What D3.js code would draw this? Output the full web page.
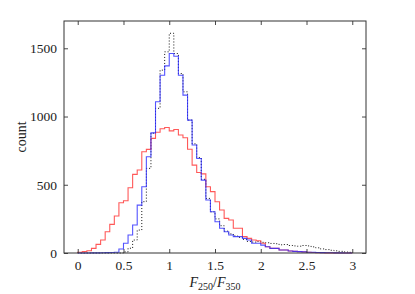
<!DOCTYPE html>
<html>
<head>
<meta charset="utf-8">
<script src="https://cdn.jsdelivr.net/npm/d3@7"></script>
<style>
  body { margin: 0; background: #fff; }
  svg { display: block; }
  svg text { font-family: "Liberation Serif", "DejaVu Serif", serif; }
</style>
</head>
<body>
<div id="wrapper"></div>
<script>
// histogram counts, bins of 0.05 from 0 to 3
const binEdges = d3.range(0, 3.0001, 0.05);

const redCounts = [5, 10, 17, 34, 63, 95, 156, 210, 271, 368,
  383, 478, 576, 608, 742, 759, 840, 885, 910, 920,
  895, 905, 865, 845, 760, 644, 590, 580, 485, 450,
  376, 315, 254, 242, 181, 181, 120, 107, 95, 90,
  71, 46, 34, 34, 22, 22, 15, 12, 10, 8,
  6, 4, 3, 2, 1, 1, 1, 0, 0, 0];

const blueCounts = [0, 0, 0, 1, 1, 2, 3, 4, 6, 29,
  71, 132, 205, 351, 485, 705, 880, 1108, 1303, 1371,
  1462, 1442, 1303, 1157, 974, 791, 693, 534, 388, 302,
  229, 181, 156, 132, 120, 120, 107, 95, 71, 71,
  58, 46, 34, 34, 22, 22, 15, 12, 10, 8,
  6, 5, 4, 3, 2, 2, 1, 1, 0, 0];

const dottedCounts = [0, 0, 0, 0, 0, 0, 0, 0, 0, 0,
  8, 35, 95, 168, 376, 620, 878, 1060, 1340, 1474,
  1610, 1462, 1315, 1181, 974, 800, 700, 540, 400, 302,
  250, 200, 160, 140, 125, 115, 100, 85, 80, 85,
  78, 75, 70, 68, 60, 62, 55, 52, 50, 55,
  52, 45, 38, 30, 25, 20, 16, 12, 8, 5];

const xTicks = [0, 0.5, 1, 1.5, 2, 2.5, 3];
const yTicks = [0, 500, 1000, 1500];

let width = 415, height = 294;
let margin = {left: 64, top: 21, right: 49, bottom: 41};
let serif = '"Liberation Serif", "DejaVu Serif", serif';

let svg = d3.select('#wrapper').append('svg')
  .attr('width', width).attr('height', height);

let xScale = d3.scaleLinear().domain([-0.15, 3.15]).range([margin.left, width - margin.right]);
let yScale = d3.scaleLinear().domain([0, 1700]).range([height - margin.bottom, margin.top]);

// step outline like matplotlib histtype='step'
let stepPoints = counts => {
  let pts = [[binEdges[0], 0]];
  counts.forEach((c, i) => pts.push([binEdges[i], c]));
  pts.push([binEdges[binEdges.length - 1], counts[counts.length - 1]]);
  pts.push([binEdges[binEdges.length - 1], 0]);
  return pts;
};

let lineGen = d3.line()
  .x(d => xScale(d[0]))
  .y(d => yScale(d[1]))
  .curve(d3.curveStepAfter);

let plot = svg.append('g').classed('plot', true);

plot.append('path')
  .attr('d', lineGen(stepPoints(dottedCounts)))
  .attr('fill', 'none')
  .attr('stroke', '#111')
  .attr('stroke-width', 1)
  .attr('stroke-dasharray', '1,2');

plot.append('path')
  .attr('d', lineGen(stepPoints(redCounts)))
  .attr('fill', 'none')
  .attr('stroke', 'rgb(255,60,60)')
  .attr('stroke-opacity', 0.85)
  .attr('stroke-width', 1.1);

plot.append('path')
  .attr('d', lineGen(stepPoints(blueCounts)))
  .attr('fill', 'none')
  .attr('stroke', 'rgb(40,40,255)')
  .attr('stroke-opacity', 0.8)
  .attr('stroke-width', 1.1);

// axes, ticks pointing inward on all sides
let x0 = margin.left, x1 = width - margin.right;
let y0 = height - margin.bottom, y1 = margin.top;

let bottomAxis = svg.append('g')
  .attr('transform', 'translate(0,' + y0 + ')')
  .call(d3.axisBottom(xScale).tickValues(xTicks).tickSize(-4).tickPadding(7).tickFormat(d3.format('')));
let topAxis = svg.append('g')
  .attr('transform', 'translate(0,' + y1 + ')')
  .call(d3.axisTop(xScale).tickValues(xTicks).tickSize(-4).tickFormat(''));
let leftAxis = svg.append('g')
  .attr('transform', 'translate(' + x0 + ',0)')
  .call(d3.axisLeft(yScale).tickValues(yTicks).tickSize(-4).tickPadding(7).tickFormat(d3.format('d')));
let rightAxis = svg.append('g')
  .attr('transform', 'translate(' + x1 + ',0)')
  .call(d3.axisRight(yScale).tickValues(yTicks).tickSize(-4).tickFormat(''));

[bottomAxis, topAxis, leftAxis, rightAxis].forEach(a => {
  a.attr('font-family', serif).attr('font-size', 13.5);
  a.select('.domain').remove();
  a.selectAll('line').attr('stroke', '#333').attr('stroke-width', 0.9);
  a.selectAll('text')
    .style('font-family', serif)
    .style('font-size', '13.5px')
    .attr('fill', '#222');
});

svg.append('rect')
  .attr('x', x0).attr('y', y1)
  .attr('width', x1 - x0).attr('height', y0 - y1)
  .attr('fill', 'none')
  .attr('stroke', '#333')
  .attr('stroke-width', 1);

// axis labels
svg.append('text')
  .attr('transform', 'translate(21,' + ((y0 + y1) / 2) + ') rotate(-90)')
  .attr('text-anchor', 'middle')
  .attr('dy', '0.35em')
  .style('font-family', serif)
  .style('font-size', '14px')
  .style('fill', '#222')
  .text('count');

let xLabel = svg.append('text')
  .attr('x', (x0 + x1) / 2)
  .attr('y', 287)
  .attr('text-anchor', 'middle')
  .style('font-family', serif)
  .style('font-size', '14px')
  .style('fill', '#222');
xLabel.append('tspan').style('font-style', 'italic').text('F');
xLabel.append('tspan').attr('dy', 3).style('font-size', '10px').text('250');
xLabel.append('tspan').attr('dy', -3).text('/');
xLabel.append('tspan').style('font-style', 'italic').text('F');
xLabel.append('tspan').attr('dy', 3).style('font-size', '10px').text('350');
</script>
</body>
</html>
